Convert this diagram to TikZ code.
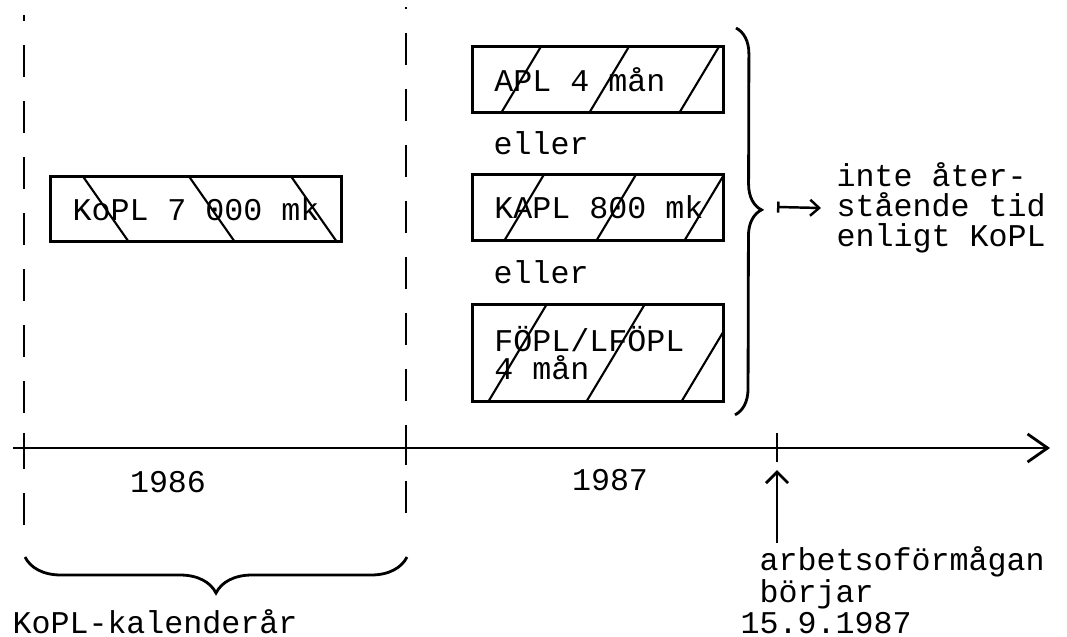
\documentclass[tikz,border=0pt]{standalone}
\usepackage{fontspec}
\setmainfont{Liberation Mono}
\usetikzlibrary{positioning, arrows.meta, decorations.pathreplacing}

\tikzset{
    ruta/.style={draw, line width=0.8pt, inner sep=0pt, anchor=north west},
    hatch/.style={path picture={
        \foreach \d in {#1}
            \draw[line width=0.6pt] ([xshift=\d]path picture bounding box.south west) -- ++(0.72cm,1.2cm);}},
    backhatch/.style={path picture={
        \foreach \d in {#1}
            \draw[line width=0.6pt] ([xshift=\d]path picture bounding box.south west) -- ++(-0.84cm,1.2cm);}},
    streck/.style={line width=0.8pt, dash pattern=on 0.32cm off 0.24cm},
    tick/.style={line width=0.8pt},
    klammer/.style={line width=0.8pt, decorate, decoration={brace, #1}},
}

\begin{document}
\begin{tikzpicture}[
    x=0.01cm, y=-0.01cm, % one unit per pixel, y downwards
    every node/.style={font=\fontsize{9}{8}\selectfont, inner sep=0pt}
]
    \useasboundingbox (0,0) rectangle (1067,637);

    % points on the time axis
    \coordinate (start) at (13,448);
    \coordinate (t86) at (24,448);
    \coordinate (t87) at (406,448);
    \coordinate (sept) at (777,448);
    \coordinate (slut) at (1050,448);

    % the boxes
    \node (kopl) [ruta, minimum width=2.91cm, minimum height=0.65cm,
        backhatch={0.78cm,1.84cm,2.86cm}] at (49,175) {KoPL 7 000 mk};
    \node (apl) [ruta, text width=2.15cm, inner xsep=0.18cm, align=flush left, minimum height=0.66cm,
        hatch={0.29cm,1.17cm,2.07cm}] at (471,45) {\hspace{0.04cm}APL 4 mån};
    \node (eller1) [anchor=west] at (493,143) {eller};
    \node (kapl) [ruta, text width=2.15cm, inner xsep=0.18cm, align=flush left, minimum height=0.66cm,
        hatch={0.32cm,1.24cm,2.12cm}] at (471,173) {\hspace{0.04cm}KAPL 800 mk};
    \node (eller2) [anchor=west] at (493,272) {eller};
    \node (fopl) [ruta, text width=2.15cm, inner xsep=0.18cm, align=flush left, minimum height=0.97cm,
        hatch={0.16cm,1.14cm,2.09cm}] at (471,303) {\hspace{0.04cm}FÖPL/LFÖPL\\\hspace*{0.04cm}4 mån};

    % text on the right
    \node (rest) [anchor=west, align=flush left, font=\fontsize{9}{8.5}\selectfont] at (836,208)
        {inte åter-\\stående tid\\enligt KoPL};

    % labels under the axis
    \node (y86) at (168,482) {1986};
    \node (y87) at (610,480) {1987};
    \node (kal) at (155,622) {KoPL-kalenderår};
    \node (arb) [anchor=north west, align=flush left, font=\fontsize{9}{9}\selectfont] at (740,546)
        {\phantom{1}arbetsoförmågan\\\phantom{1}börjar\\15.9.1987};

    % dashed year limits and ticks
    \draw [streck] (24,525) -- (24,15);
    \draw [streck] (406,513) -- (406,7);
    \draw [tick] ([yshift=0.15cm]t86) -- ([yshift=-0.19cm]t86);
    \draw [tick] ([yshift=0.15cm]t87) -- ([yshift=-0.17cm]t87);
    \draw [tick] ([yshift=0.15cm]sept) -- ([yshift=-0.14cm]sept);

    % time axis
    \draw [line width=0.8pt, -{Straight Barb[length=2mm,width=2.8mm]}] (start) -- (slut);

    % braces
    \draw [klammer={amplitude=0.26cm, aspect=0.47}]
        ([xshift=0.11cm,yshift=0.17cm]apl.north east) -- ([xshift=0.1cm,yshift=-0.12cm]fopl.south east);
    \coordinate (spets) at (759,207);
    \draw [klammer={mirror, amplitude=0.36cm}] (25,557) -- (407,557);

    % arrows
    \draw [line width=0.7pt, arrows={Bar[width=1.1mm]-Straight Barb[length=0.9mm,width=1.6mm]}]
        ([xshift=0.18cm]spets) -- ([xshift=-0.15cm]rest.west);
    \draw [line width=0.8pt, -{Straight Barb[length=1.1mm,width=2.2mm]}]
        ([yshift=0.03cm]arb.north -| sept) -- ([yshift=-0.22cm]sept);
\end{tikzpicture}
\end{document}
